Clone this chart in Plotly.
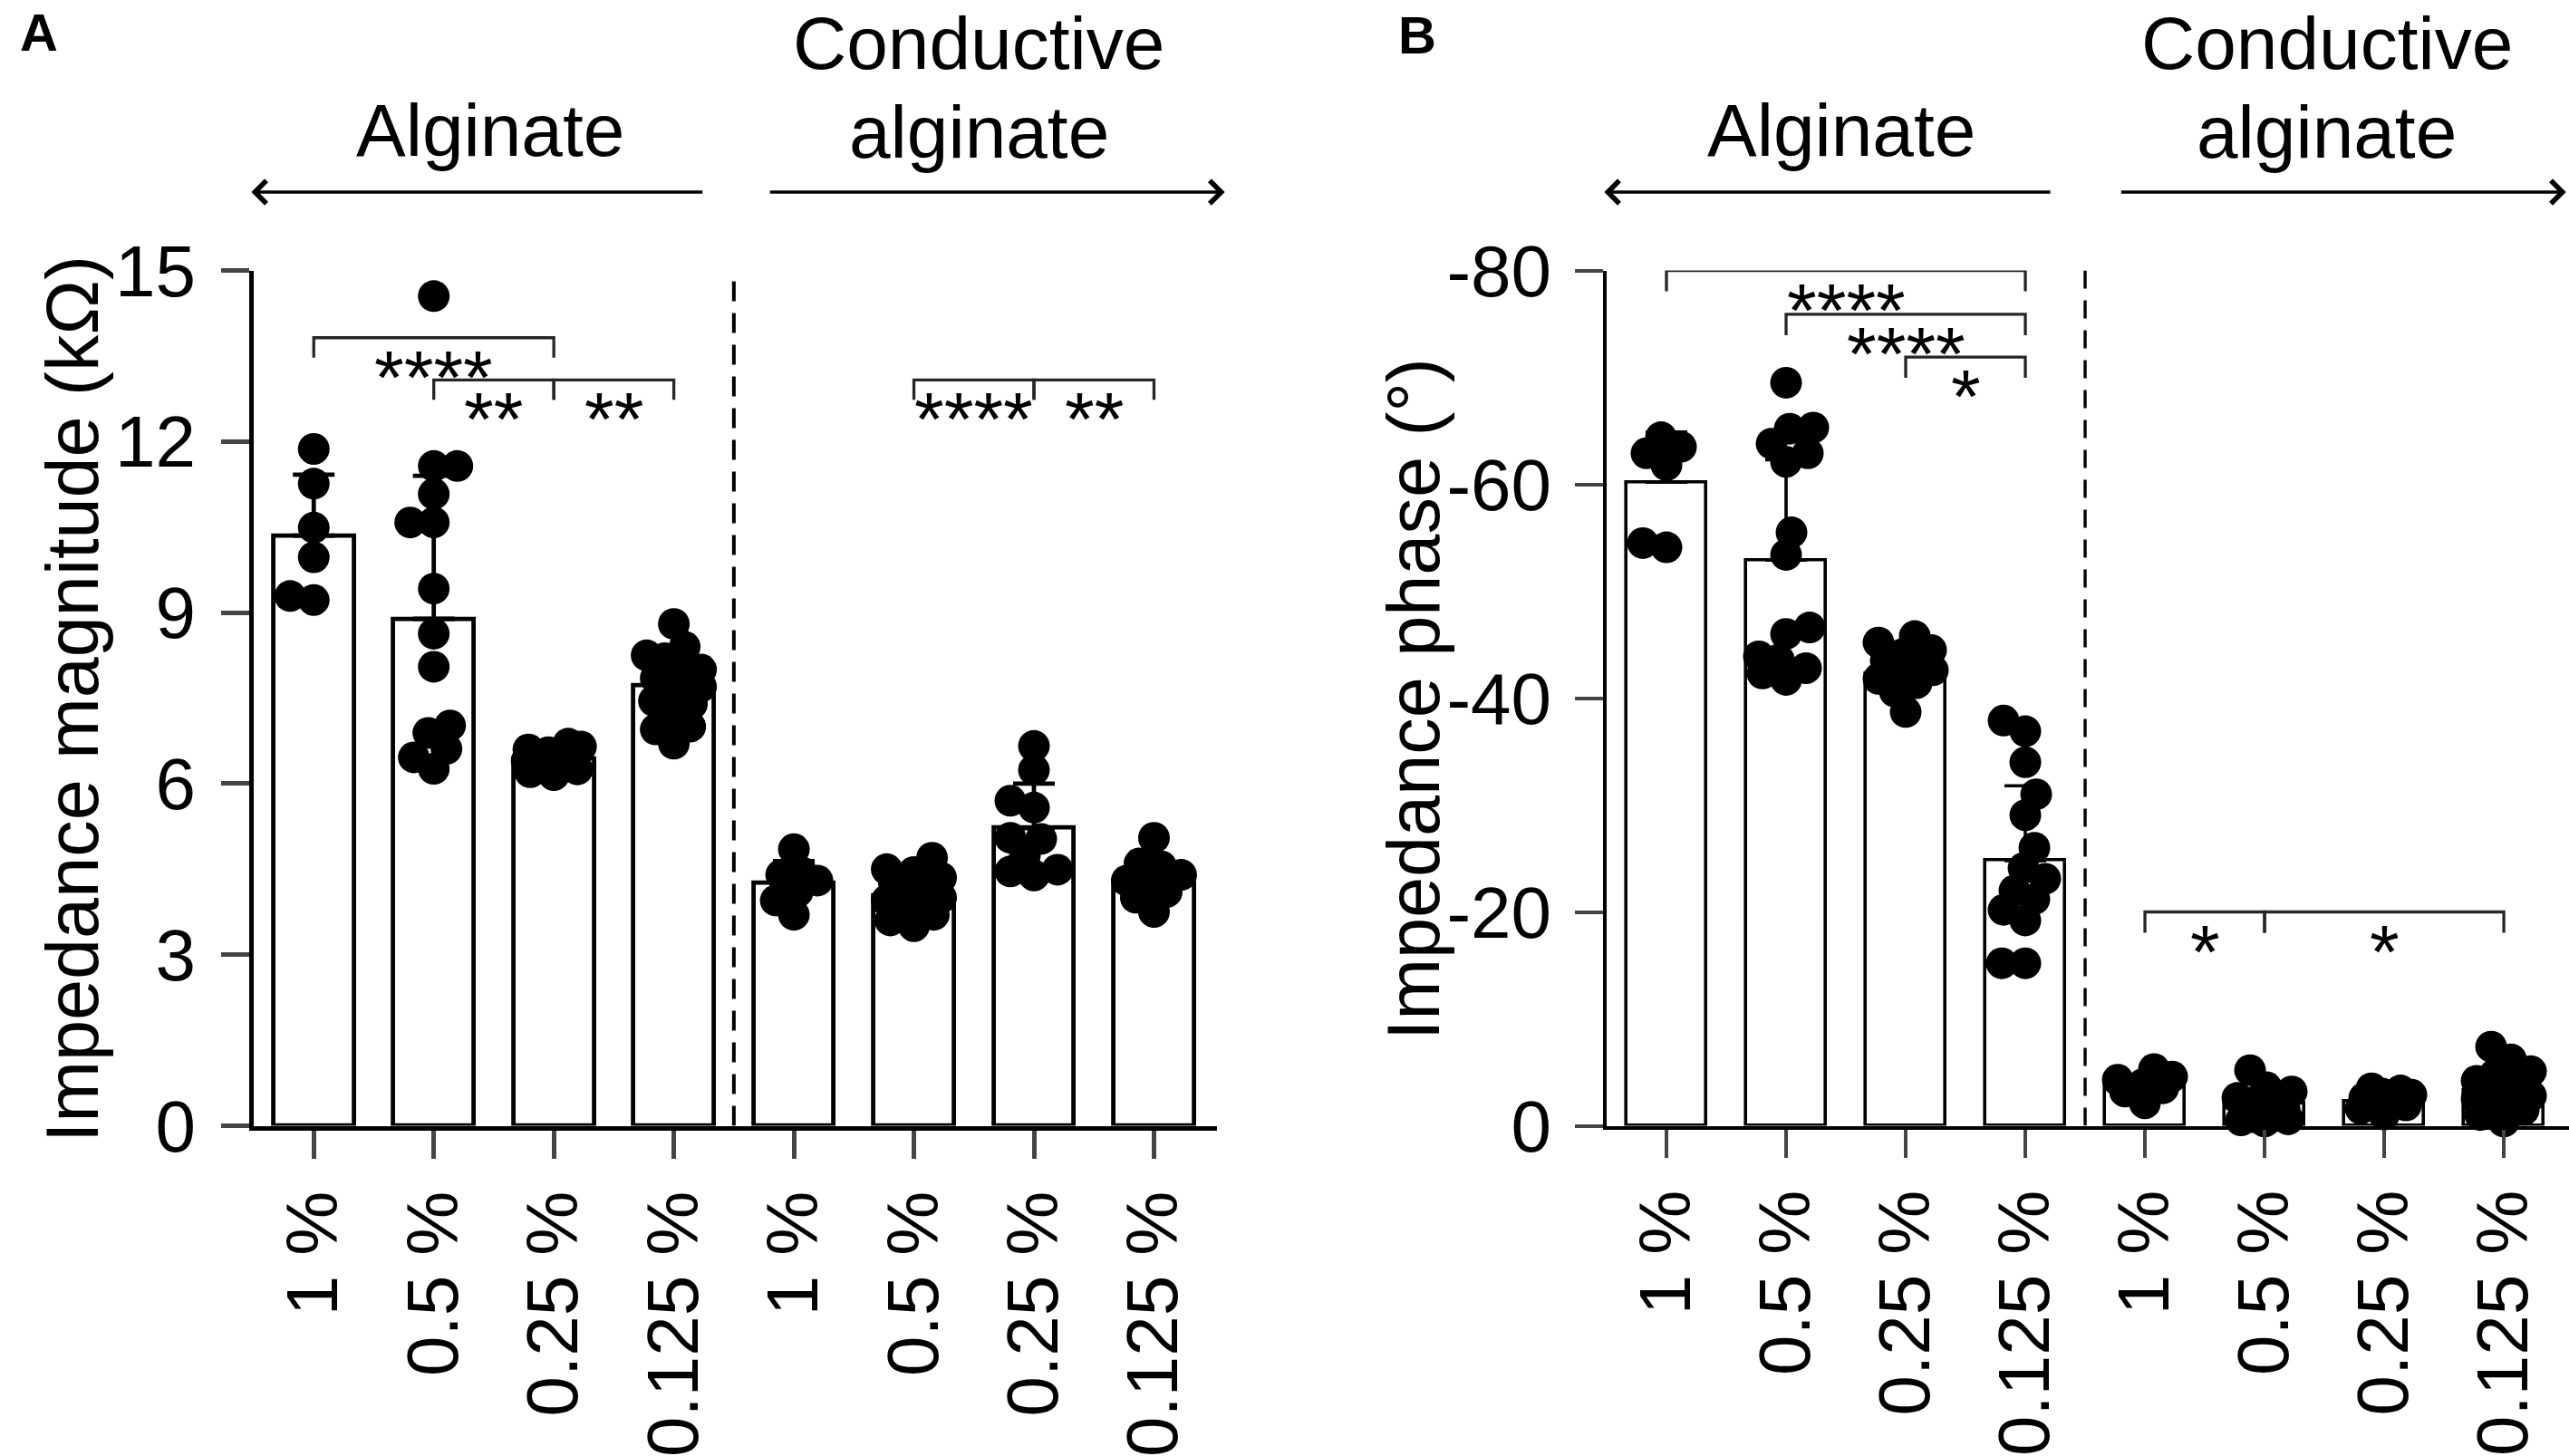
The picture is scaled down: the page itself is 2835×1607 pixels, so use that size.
import plotly.graph_objects as go

# canvas
W, H = 2835, 1607
FONT = "Liberation Sans, Arial, sans-serif"

categories = ["1 %", "0.5 %", "0.25 %", "0.125 %", "1 %", "0.5 %", "0.25 %", "0.125 %"]

# --- A: impedance magnitude (kOhm) ---
mag_mean = [10.35, 8.89, 6.44, 7.72, 4.26, 4.03, 5.22, 4.26]
mag_sd = [1.07, 2.51, 0.15, 0.60, 0.38, 0.30, 0.78, 0.35]
mag_alg_1 = [11.87, 11.26, 10.49, 9.97, 9.22, 9.29]
mag_alg_05 = [14.55, 11.57, 11.57, 11.08, 10.58, 10.58, 9.42, 8.63, 8.05, 7.02, 6.89, 6.61, 6.46, 6.26]
mag_alg_025 = [6.7, 6.65, 6.6, 6.55, 6.5, 6.45, 6.45, 6.4, 6.35, 6.3, 6.3, 6.25, 6.2, 6.15]
mag_alg_0125 = [8.8, 8.4, 8.25, 8.2, 8.0, 7.95, 7.85, 7.7, 7.6, 7.45, 7.4, 7.2, 7.0, 6.95, 6.7]
mag_con_1 = [4.85, 4.45, 4.4, 4.3, 4.1, 3.95, 3.7]
mag_con_05 = [4.7, 4.5, 4.45, 4.35, 4.25, 4.15, 4.1, 4.0, 3.95, 3.85, 3.8, 3.7, 3.6, 3.5]
mag_con_025 = [6.66, 6.24, 5.70, 5.58, 5.05, 5.03, 4.74, 4.49, 4.46, 4.39]
mag_con_0125 = [5.05, 4.6, 4.55, 4.4, 4.3, 4.25, 4.1, 4.0, 3.75]
mag_brackets = [(0, 2, 13.82, "****"), (1, 2, 13.08, "**"), (2, 3, 13.08, "**"),
                (5, 6, 13.08, "****"), (6, 7, 13.08, "**")]

# --- B: impedance phase (deg) ---
ph_mean = [-60.2, -52.9, -42.3, -24.8, -3.8, -2.1, -2.3, -3.3]
ph_sd = [4.7, 9.4, 2.0, 7.0, 0.9, 1.2, 0.6, 1.8]
ph_alg_1 = [-64.4, -63.5, -62.9, -61.8, -54.1, -54.5]
ph_alg_05 = [-69.5, -65.2, -65.3, -63.8, -62.9, -62.1, -55.5, -53.4, -46.6, -46.0,
             -43.9, -43.6, -42.8, -42.3, -41.7]
ph_alg_025 = [-45.8, -45.2, -44.5, -44.1, -43.5, -43.1, -42.6, -42.3, -41.8, -41.4, -40.6, -38.7]
ph_alg_0125 = [-37.9, -36.9, -34.0, -31.0, -29.05, -26.0, -24.1, -23.1, -22.0, -21.2,
               -20.2, -19.2, -15.2, -15.2]
ph_con_1 = [-5.3, -4.6, -4.3, -3.9, -3.5, -3.2, -2.1]
ph_con_05 = [-5.2, -3.6, -3.2, -2.6, -2.2, -1.9, -1.6, -1.3, -1.1, -0.9, -0.8, -0.6, -0.5, -0.4]
ph_con_025 = [-3.5, -3.3, -3.0, -2.9, -2.6, -2.5, -2.2, -1.9, -1.6, -1.05]
ph_con_0125 = [-7.4, -6.2, -5.1, -4.8, -4.2, -3.6, -3.5, -3.1, -2.8, -2.5, -2.0, -1.9,
               -1.5, -1.0, -0.4]
ph_brackets = [(0, 3, -80.0, "****"), (1, 3, -75.9, "****"), (2, 3, -71.9, "*"),
               (4, 5, -20.0, "*"), (5, 7, -20.0, "*")]

mag_groups = [mag_alg_1, mag_alg_05, mag_alg_025, mag_alg_0125,
              mag_con_1, mag_con_05, mag_con_025, mag_con_0125]
ph_groups = [ph_alg_1, ph_alg_05, ph_alg_025, ph_alg_0125,
             ph_con_1, ph_con_05, ph_con_025, ph_con_0125]

# pixel geometry of the two plot areas
Y_TOP, Y_BOT = 298.5, 1242.5
A_X0, A_X1 = 280.0, 1343.0
B_X0, B_X1 = 1773.0, 2835.0
A_RANGE = [-0.5, 7.525]
B_RANGE = [-0.5, 7.545]
DOT = 35


def swarm(vals, px_y, px_x, diam=DOT):
    """simple deterministic beeswarm: offsets (in category units)"""
    md = 0.72 * diam
    placed = []
    offs = [0.0] * len(vals)
    order = sorted(range(len(vals)), key=lambda i: abs(vals[i]))
    flip = 1
    for i in order:
        y = vals[i] * px_y
        cands = [0.0]
        s = 2.0
        while s <= 30:
            cands += [flip * s, -flip * s]
            s += 2.0
        best, best_c, best_d = None, 0.0, -1
        for c in cands:
            d = min(((c - px) ** 2 + (y - py) ** 2) ** 0.5 for px, py in placed) if placed else 1e9
            if d >= md:
                best = c
                break
            if d > best_d:
                best_d, best_c = d, c
        if best is None:
            best = best_c
        placed.append((best, y))
        offs[i] = best / px_x
        flip = -flip
    return offs


fig = go.Figure()

panels = [
    dict(xa="x", ya="y", mean=mag_mean, sd=mag_sd, groups=mag_groups, lw=4.8,
         px_y=(Y_BOT - Y_TOP) / 15.0, px_x=(A_X1 - A_X0) / (A_RANGE[1] - A_RANGE[0]), neg=False),
    dict(xa="x2", ya="y2", mean=ph_mean, sd=ph_sd, groups=ph_groups, lw=3.6,
         px_y=(Y_BOT - Y_TOP) / 80.0, px_x=(B_X1 - B_X0) / (B_RANGE[1] - B_RANGE[0]), neg=True),
]

for p in panels:
    xs = list(range(len(categories)))
    fig.add_trace(go.Bar(
        x=xs, y=p["mean"], xaxis=p["xa"], yaxis=p["ya"], width=0.67,
        marker=dict(color="white", line=dict(color="black", width=p["lw"])),
        error_y=dict(type="data", symmetric=False,
                     array=[0] * 8 if p["neg"] else p["sd"],
                     arrayminus=p["sd"] if p["neg"] else [0] * 8,
                     color="black", thickness=p["lw"], width=23),
        showlegend=False, hoverinfo="skip"))
    px, py = [], []
    for k, g in enumerate(p["groups"]):
        offs = swarm(g, p["px_y"], p["px_x"])
        px += [k + o for o in offs]
        py += g
    fig.add_trace(go.Scatter(
        x=px, y=py, xaxis=p["xa"], yaxis=p["ya"], mode="markers",
        marker=dict(color="black", size=DOT, line=dict(width=0)),
        cliponaxis=False, showlegend=False, hoverinfo="skip"))

shapes = []
annotations = []

# dashed separators
shapes.append(dict(type="line", xref="x", yref="y", x0=3.5, x1=3.5, y0=0, y1=15,
                   line=dict(color="black", width=4, dash="22px,13px")))
shapes.append(dict(type="line", xref="x2", yref="y2", x0=3.5, x1=3.5, y0=0, y1=-80,
                   line=dict(color="black", width=3.4, dash="20px,13px")))


def add_brackets(br, xa, ya, drop):
    for x1, x2, yv, lab in br:
        path = "M{},{} L{},{} L{},{} L{},{}".format(x1, yv + drop, x1, yv, x2, yv, x2, yv + drop)
        shapes.append(dict(type="path", path=path, xref=xa, yref=ya,
                           line=dict(color="#262626", width=3.3)))
        annotations.append(dict(x=(x1 + x2) / 2, y=yv, xref=xa, yref=ya, text=lab,
                                showarrow=False, xanchor="center", yanchor="middle",
                                yshift=-44, font=dict(family=FONT, size=84, color="black")))


add_brackets(mag_brackets, "x", "y", -0.35)
add_brackets(ph_brackets, "x2", "y2", 1.95)


def paper_y(py):
    return (H - py) / H


def paper_x(px):
    return px / W


hfont = dict(family=FONT, size=82, color="black")
for xa, xl, xr, tail_l, tail_r, head_r in [("x", 1.47, 5.54, 3.25, 3.79, 7.59),
                                            ("x2", 1.46, 5.52, 3.22, 3.79, 7.52)]:
    annotations.append(dict(x=xl, y=paper_y(144), xref=xa, yref="paper", text="Alginate",
                            showarrow=False, xanchor="center", yanchor="middle", font=hfont))
    annotations.append(dict(x=xr, y=paper_y(47), xref=xa, yref="paper", text="Conductive",
                            showarrow=False, xanchor="center", yanchor="middle", font=hfont))
    annotations.append(dict(x=xr, y=paper_y(145), xref=xa, yref="paper", text="alginate",
                            showarrow=False, xanchor="center", yanchor="middle", font=hfont))
    annotations.append(dict(x=-0.52, y=paper_y(212), xref=xa, yref="paper", text="",
                            ax=tail_l, ay=0, axref=xa, ayref="pixel", showarrow=True,
                            arrowhead=4, arrowsize=1.4, arrowwidth=3.5, arrowcolor="black"))
    annotations.append(dict(x=head_r, y=paper_y(212), xref=xa, yref="paper", text="",
                            ax=tail_r, ay=0, axref=xa, ayref="pixel", showarrow=True,
                            arrowhead=4, arrowsize=1.4, arrowwidth=3.5, arrowcolor="black"))

# y titles and panel letters
tfont = dict(family=FONT, size=81, color="black")
annotations.append(dict(x=paper_x(80), y=paper_y(772), xref="paper", yref="paper",
                        text="Impedance magnitude (kΩ)", textangle=-90, showarrow=False,
                        xanchor="center", yanchor="middle", font=tfont))
annotations.append(dict(x=paper_x(1560), y=paper_y(772), xref="paper", yref="paper",
                        text="Impedance phase (°)", textangle=-90, showarrow=False,
                        xanchor="center", yanchor="middle", font=tfont))
lfont = dict(family=FONT, size=58, color="black", weight="bold")
annotations.append(dict(x=paper_x(20), y=paper_y(36), xref="paper", yref="paper", text="<b>A</b>",
                        showarrow=False, xanchor="left", yanchor="middle", font=lfont))
annotations.append(dict(x=paper_x(1541), y=paper_y(38), xref="paper", yref="paper", text="<b>B</b>",
                        showarrow=False, xanchor="left", yanchor="middle", font=lfont))

tick_font = dict(family=FONT, size=80, color="black")
xcommon = dict(tickmode="array", tickvals=list(range(8)), ticktext=categories, tickangle=-90,
               ticks="outside", ticklen=31, showline=True, linecolor="black",
               showgrid=False, zeroline=False, tickfont=tick_font, automargin=False,
               ticklabelstandoff=4)
ycommon = dict(ticks="outside", ticklen=31, showline=True, linecolor="black",
               showgrid=False, zeroline=False, tickfont=tick_font, automargin=False,
               tickmode="array")

fig.update_layout(
    width=W, height=H, margin=dict(l=0, r=0, t=0, b=0),
    paper_bgcolor="white", plot_bgcolor="white", bargap=0,
    xaxis=dict(domain=[paper_x(A_X0), paper_x(A_X1)], range=A_RANGE, anchor="y",
               linewidth=5, tickwidth=4.5, **xcommon),
    yaxis=dict(domain=[paper_y(Y_BOT), paper_y(Y_TOP)], range=[0, 15], anchor="x",
               tickvals=[0, 3, 6, 9, 12, 15], ticktext=["0", "3", "6", "9", "12", "15"],
               linewidth=5, tickwidth=4.5, ticklabelstandoff=12, **ycommon),
    xaxis2=dict(domain=[paper_x(B_X0), 1.0], range=B_RANGE, anchor="y2",
                linewidth=4, tickwidth=3.8, **xcommon),
    yaxis2=dict(domain=[paper_y(Y_BOT), paper_y(Y_TOP)], range=[0, -80], anchor="x2",
                tickvals=[0, -20, -40, -60, -80], ticktext=["0", "-20", "-40", "-60", "-80"],
                linewidth=4, tickwidth=3.8, ticklabelstandoff=10, **ycommon),
    shapes=shapes, annotations=annotations,
)

fig.write_html("out.html", config={"displayModeBar": False},
               post_script="document.body.style.margin='0';document.body.style.overflow='hidden';")
